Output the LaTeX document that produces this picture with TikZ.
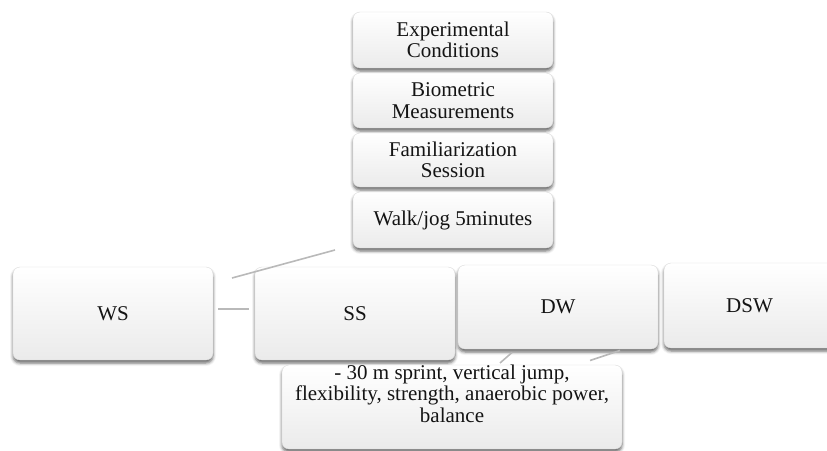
\documentclass[tikz,border=0pt]{standalone}
\usepackage{fontspec}
\setmainfont{Liberation Serif}
\usetikzlibrary{shadows.blur}
\begin{document}
\begin{tikzpicture}[x=1pt,y=-1pt,
  box/.style={rounded corners=7pt, draw=gray!28, line width=0.4pt,
    top color=white, bottom color=gray!16,
    blur shadow={shadow xshift=0pt, shadow yshift=-3pt, shadow blur radius=3pt, shadow opacity=60},
    inner sep=2pt, align=center, font=\fontsize{21}{21.5}\selectfont, text=black!92},
  txt/.style={inner sep=0pt, align=center, font=\fontsize{21}{21.5}\selectfont, text=black!92},
  conn/.style={draw=gray!55, line width=1.6pt}]
\useasboundingbox (0,0) rectangle (827,450);
% top column
\node[box, minimum width=200pt, minimum height=56pt] (exp) at (453,40) {Experimental\\Conditions};
\node[box, minimum width=200pt, minimum height=55pt] (bio) at (453,100.5) {Biometric\\Measurements};
\node[box, minimum width=200pt, minimum height=54pt] (fam) at (453,160) {Familiarization\\Session};
\node[box, minimum width=200pt, minimum height=56pt] (walk) at (453,220) {Walk/jog 5minutes};
% row
\node[box, minimum width=200pt, minimum height=93pt] (ws) at (113,313.5) {WS};
\node[box, minimum width=200pt, minimum height=93pt] (ss) at (355,313.5) {SS};
\node[box, minimum width=200pt, minimum height=84pt] (dw) at (558,307) {DW};
\node[box, minimum width=171pt, minimum height=85pt] (dsw) at (749.5,305.5) {DSW};
% tests box
\node[box, minimum width=340pt, minimum height=84pt] (tests) at (452,407) {};
\node[txt, anchor=north] (teststxt) at (452,364.5) {- 30 m sprint, vertical jump,\\flexibility, strength, anaerobic power,\\balance};
% connector fragments
\coordinate (w1) at (335,250);
\coordinate (w2) at (232,278);
\coordinate (h1) at (218,309);
\coordinate (h2) at (249,309);
\coordinate (d1) at (512,352.5);
\coordinate (d2) at (500,363);
\coordinate (e1) at (620,350.5);
\coordinate (e2) at (590,360.5);
\draw[conn] (w1) -- (w2);
\draw[conn] (h1) -- (h2);
\draw[conn] (d1) -- (d2);
\draw[conn] (e1) -- (e2);
\end{tikzpicture}
\end{document}
